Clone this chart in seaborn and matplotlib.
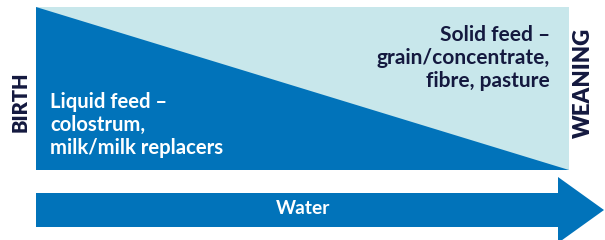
import matplotlib
matplotlib.use("Agg")
import matplotlib.pyplot as plt
import seaborn as sns

# stages along the timeline
stages = ["BIRTH", "WEANING"]
feed_labels = ["Liquid feed –\ncolostrum,\nmilk/milk replacers",
               "Solid feed –\ngrain/concentrate,\nfibre, pasture"]
arrow_label = "Water"

# share of liquid feed at birth and at weaning (1 = whole column)
liquid_share = [1.0, 0.0]

dark_blue = "#0173BA"
light_blue = "#C8E7EB"
navy = "#14193F"

sns.set_theme(style="white")
plt.rcParams["font.family"] = ["Lato", "DejaVu Sans"]

fig = plt.figure(figsize=(6.05, 2.4), dpi=100)
ax = fig.add_axes([0, 0, 1, 1])
ax.set_xlim(0, 605)
ax.set_ylim(240, 0)
ax.axis("off")

# panel in pixel space
x0, x1 = 36, 569
top, bottom = 7, 170
h = bottom - top

ax.fill([x0, x1, x1, x0], [top, top, bottom, bottom], color=light_blue, lw=0)
ys = [bottom - s * h for s in liquid_share]
ax.fill([x0, x1, x1, x0], [ys[0], ys[1], bottom, bottom], color=dark_blue, lw=0)

# arrow
ax.fill([x0, 558, 558, 604, 558, 558, x0],
        [193, 193, 177, 210, 243, 227, 227], color=dark_blue, lw=0)
ax.text(303, 209, arrow_label, color="white", fontsize=13.8, fontweight="bold",
        ha="center", va="center")

ax.text(50, 125, feed_labels[0], color="white", fontsize=14.6,
        fontweight="bold", ha="left", va="center", linespacing=1.2)
ax.text(550, 58, feed_labels[1], color=navy, fontsize=15,
        fontweight="bold", ha="right", va="center", linespacing=1.2)

ax.text(20, 102, stages[0], color=navy, fontsize=14.5, fontweight="heavy",
        rotation=90, ha="center", va="center")
ax.text(583, 83, stages[1], color=navy, fontsize=16, fontweight="heavy",
        rotation=90, ha="center", va="center")

fig.savefig("out.png", dpi=100)
